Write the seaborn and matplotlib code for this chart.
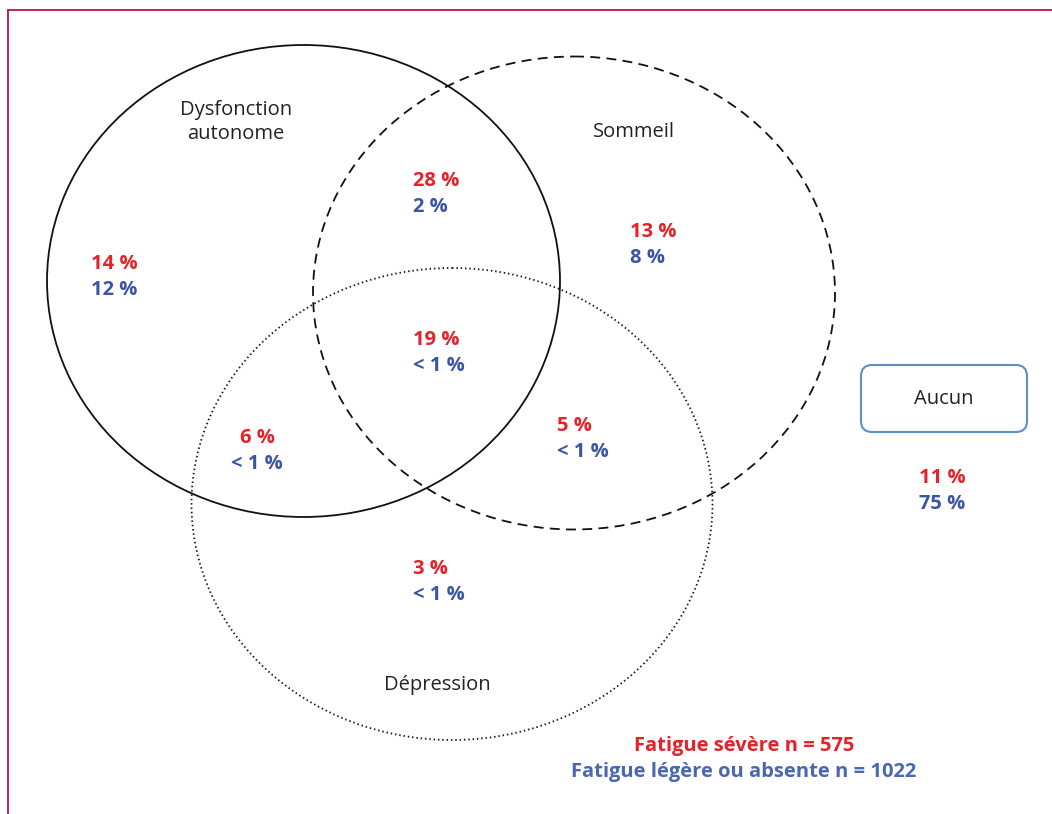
import matplotlib
matplotlib.use("Agg")
import matplotlib.pyplot as plt
from matplotlib.patches import Ellipse, FancyBboxPatch
import seaborn as sns

# data
sets = ["Dysfonction\nautonome", "Sommeil", "Dépression"]
regions = ["A seul", "A∩S", "S seul", "A∩S∩D", "A∩D", "S∩D", "D seul", "Aucun"]
severe = ["14 %", "28 %", "13 %", "19 %", "6 %", "5 %", "3 %", "11 %"]
mild = ["12 %", "2 %", "8 %", "< 1 %", "< 1 %", "< 1 %", "< 1 %", "75 %"]
n_severe = 575
n_mild = 1022

# layout (pixel space)
circle_xy = [(303.5, 281), (574, 293), (452, 504)]
circle_wh = [(513, 472), (522, 473), (521, 472)]
circle_ls = ["-", (0, (5.5, 3.5)), (0, (0.8, 1.6))]
set_label_xy = [(236, 122), (634, 132), (437, 685)]
region_xy = [(91, 264), (413, 181), (630, 232), (413, 340), (257, 438),
             (557, 426), (413, 569), (919, 478)]
region_ha = ["left", "left", "left", "left", "center", "left", "left", "left"]

RED = "#e52229"
BLUE = "#3b55a4"
FRAME = "#b5174a"
FS = 14.5

sns.set_theme(style="white")
plt.rcParams["font.family"] = ["Open Sans", "DejaVu Sans"]

fig = plt.figure(figsize=(10.52, 8.14), dpi=100)
ax = fig.add_axes([0, 0, 1, 1])
ax.set_xlim(0, 1052)
ax.set_ylim(814, 0)
ax.axis("off")

# frame lines (top and left)
ax.plot([8, 1052], [10, 10], color=FRAME, lw=1.3)
ax.plot([8, 8], [10, 814], color=FRAME, lw=1.3)

for (cx, cy), (w, h), ls in zip(circle_xy, circle_wh, circle_ls):
    ax.add_patch(Ellipse((cx, cy), w, h, fill=False, ec="#111111", lw=1.3, ls=ls))

for name, (x, y) in zip(sets, set_label_xy):
    ax.text(x, y, name, ha="center", va="center", fontsize=FS, color="#222222",
            linespacing=1.25)

for s, m, (x, y), ha in zip(severe, mild, region_xy, region_ha):
    ax.text(x, y, s, ha=ha, va="center", fontsize=FS, fontweight="bold", color=RED)
    ax.text(x, y + 26, m, ha=ha, va="center", fontsize=FS, fontweight="bold", color=BLUE)

ax.add_patch(FancyBboxPatch((861, 365), 166, 67, boxstyle="round,pad=0,rounding_size=11",
                            fill=False, ec="#5b8fc8", lw=1.5))
ax.text(944, 399, "Aucun", ha="center", va="center", fontsize=FS, color="#222222")

ax.text(744, 746, f"Fatigue sévère n = {n_severe}", ha="center", va="center",
        fontsize=FS, fontweight="bold", color=RED)
ax.text(744, 772, f"Fatigue légère ou absente n = {n_mild}", ha="center", va="center",
        fontsize=FS, fontweight="bold", color="#4a68b0")

fig.savefig("out.png", dpi=100, facecolor="white")
